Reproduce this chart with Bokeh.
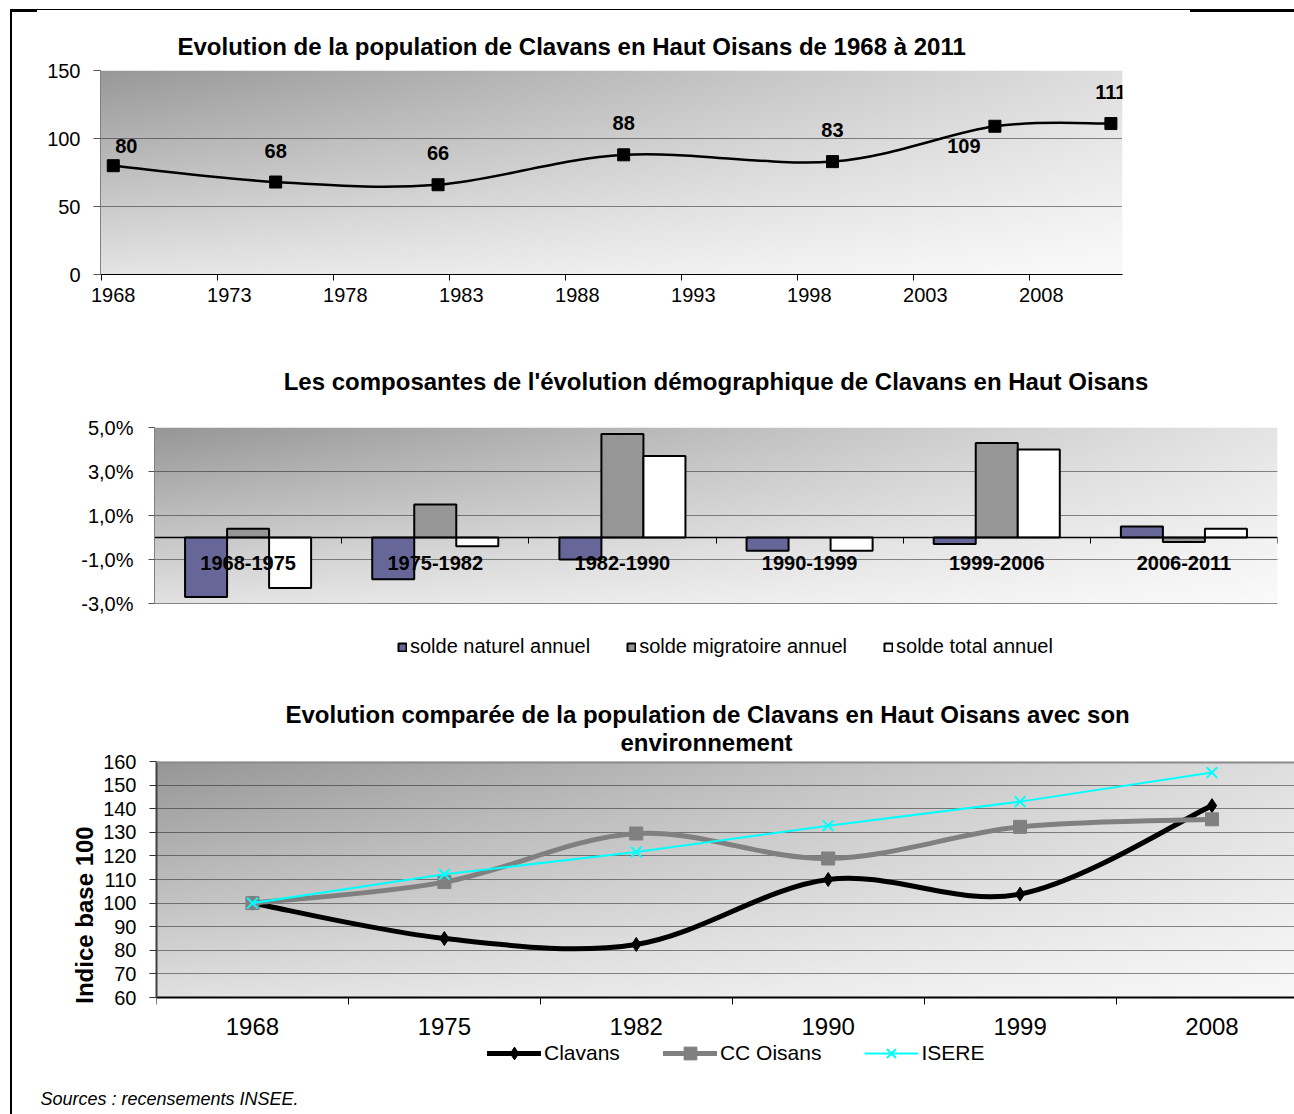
import numpy as np
from bokeh.plotting import figure
from bokeh.layouts import column
from bokeh.models import (ColumnDataSource, FixedTicker, Legend, LegendItem,
                          Range1d, Span, Title)
from bokeh.core.properties import value
from bokeh.embed import file_html
from bokeh.resources import INLINE

FONT = "Liberation Sans"

# ---------------------------------------------------------------------------
# Data
# ---------------------------------------------------------------------------
# Population of Clavans en Haut Oisans at each census
pop_years = [1968, 1975, 1982, 1990, 1999, 2006, 2011]
pop_counts = [80, 68, 66, 88, 83, 109, 111]
year_ticks = [1968, 1973, 1978, 1983, 1988, 1993, 1998, 2003, 2008]
pop_ticks = [0, 50, 100, 150]

# Annual components of population change (% per year)
periods = ["1968-1975", "1975-1982", "1982-1990", "1990-1999", "1999-2006", "2006-2011"]
solde_naturel = [-2.7, -1.9, -1.0, -0.6, -0.3, 0.5]
solde_migratoire = [0.4, 1.5, 4.7, 0.0, 4.3, -0.2]
solde_total = [-2.3, -0.4, 3.7, -0.6, 4.0, 0.4]
pct_ticks = [-3, -1, 1, 3, 5]
pct_labels = ["-3,0%", "-1,0%", "1,0%", "3,0%", "5,0%"]

# Population index, base 100 in 1968
census_years = ["1968", "1975", "1982", "1990", "1999", "2008"]
idx_clavans = [100, 85, 82.5, 110, 103.8, 141.3]
idx_cc_oisans = [100, 108.9, 129.5, 118.9, 132.3, 135.5]
idx_isere = [100, 112.2, 121.7, 132.8, 143.0, 155.3]
idx_ticks = [60, 70, 80, 90, 100, 110, 120, 130, 140, 150, 160]

# Pixel offsets of the value labels around each population point
LABEL_DX = [13, 0, 0, 0, 0, -31, 0]
LABEL_DY = [-20, -31, -32, -32, -32, 20, -32]


# ---------------------------------------------------------------------------
# Helpers
# ---------------------------------------------------------------------------
def smooth_segments(xs, ys):
    """Cubic Bezier pieces passing through every point (Catmull-Rom style)."""
    pts = list(zip(xs, ys))
    n = len(pts)
    out = {k: [] for k in ("x0", "y0", "x1", "y1", "cx0", "cy0", "cx1", "cy1")}
    for i in range(n - 1):
        p0, p1, p2, p3 = pts[max(i - 1, 0)], pts[i], pts[i + 1], pts[min(i + 2, n - 1)]
        out["x0"].append(p1[0]); out["y0"].append(p1[1])
        out["x1"].append(p2[0]); out["y1"].append(p2[1])
        out["cx0"].append(p1[0] + (p2[0] - p0[0]) / 6)
        out["cy0"].append(p1[1] + (p2[1] - p0[1]) / 6)
        out["cx1"].append(p2[0] - (p3[0] - p1[0]) / 6)
        out["cy1"].append(p2[1] - (p3[1] - p1[1]) / 6)
    return ColumnDataSource(out)


def gradient(w, h, tl, tr, bl, br):
    """Grey shading of the plot area, darker in the top-left corner."""
    u = np.linspace(0, 1, w)[None, :]
    v = np.linspace(0, 1, h)[:, None]
    g = tl * (1 - u) * (1 - v) + tr * u * (1 - v) + bl * (1 - u) * v + br * u * v
    g = np.flipud(np.clip(np.round(g), 0, 255).astype(np.uint32))
    return (np.uint32(255) << 24) | (g << 16) | (g << 8) | g


def shade(p, colors, y0, y1):
    xr = p.x_range
    p.image_rgba(image=[gradient(400, 120, *colors)], x=xr.start, y=y0,
                 dw=xr.end - xr.start, dh=y1 - y0, level="image")


def base_figure(**kw):
    p = figure(output_backend="svg", toolbar_location=None, frame_align=False,
               background_fill_color=None, border_fill_color=None,
               outline_line_color=None, **kw)
    p.xgrid.visible = False
    p.ygrid.grid_line_color = "#1a1a1a"
    p.ygrid.grid_line_dash = "1 1"
    p.ygrid.grid_line_width = 1
    for ax in p.axis:
        ax.major_label_text_font = FONT
        ax.major_label_text_color = "black"
        ax.major_label_text_font_size = "20px"
        ax.major_tick_in = 0
        ax.minor_tick_in = 0
    return p


def add_title(p, text, align="center", offset=0, standoff=10):
    p.add_layout(Title(text=text, align=align, offset=offset, standoff=standoff,
                       text_font=FONT, text_font_size="24px", text_font_style="bold",
                       text_color="black"), "above")


def bare_category_axis(ax, boundaries, tick_len, width):
    """Axis line with boundary ticks only; the category names are drawn as text."""
    ax.ticker = FixedTicker(ticks=[], minor_ticks=boundaries)
    ax.major_tick_out = 0
    ax.minor_tick_out = tick_len
    ax.minor_tick_line_color = "black"
    ax.major_label_standoff = 0
    ax.axis_line_color = "black"
    ax.axis_line_width = width


def make_legend(items, location, font_size, **kw):
    return Legend(items=items, orientation="horizontal", location=location,
                  label_standoff=3, padding=0, margin=0, border_line_color=None,
                  background_fill_alpha=0, label_text_font=FONT,
                  label_text_color="black", label_text_font_size=font_size,
                  label_height=20, **kw)


# ---------------------------------------------------------------------------
# 1. Population curve
# ---------------------------------------------------------------------------
p1 = base_figure(frame_width=1022, frame_height=204,
                 min_border_left=100, min_border_right=172,
                 min_border_top=70, min_border_bottom=56,
                 x_range=Range1d(1967.45, 2011.5), y_range=Range1d(0, 150))
shade(p1, (152, 222, 228, 250), 0, 150)

xa = p1.xaxis[0]
xa.ticker = FixedTicker(ticks=year_ticks, minor_ticks=[y - 0.5 for y in year_ticks])
xa.major_tick_out = 0
xa.minor_tick_out = 6
xa.minor_tick_line_color = "black"
xa.axis_line_color = "black"
xa.major_label_standoff = 7

ya = p1.yaxis[0]
ya.ticker = FixedTicker(ticks=pop_ticks)
ya.major_tick_out = 7
ya.major_tick_line_color = "#555555"
ya.axis_line_color = "#808080"
ya.major_label_standoff = 13

p1.bezier(x0="x0", y0="y0", x1="x1", y1="y1", cx0="cx0", cy0="cy0", cx1="cx1", cy1="cy1",
          source=smooth_segments(pop_years, pop_counts), line_color="black", line_width=2.5)
p1.scatter(pop_years, pop_counts, marker="square", size=12, fill_color="black", line_color="black")

lbl = ColumnDataSource(dict(x=pop_years, y=pop_counts, t=[str(v) for v in pop_counts],
                            dx=LABEL_DX, dy=LABEL_DY))
p1.text(x="x", y="y", text="t", x_offset="dx", y_offset="dy", source=lbl,
        text_font=value(FONT), text_font_style="bold", text_font_size="20px",
        text_align="center", text_baseline="middle", text_color="black")

add_title(p1, "Evolution de la population de Clavans en Haut Oisans de 1968 à 2011",
          align="left", offset=77, standoff=22)

# ---------------------------------------------------------------------------
# 2. Components of change (bars); the plot area also holds the legend row
# ---------------------------------------------------------------------------
n = len(periods)
centers = [i + 0.5 for i in range(n)]
BAR_W = 0.2245

p2 = base_figure(frame_width=1123, frame_height=241,
                 min_border_left=154, min_border_right=17,
                 min_border_top=97, min_border_bottom=12,
                 x_range=Range1d(0, n), y_range=Range1d(-5.9545, 5))
shade(p2, (150, 228, 226, 250), pct_ticks[0], pct_ticks[-1])

series = [("solde naturel annuel", solde_naturel, "#666699"),
          ("solde migratoire annuel", solde_migratoire, "#969696"),
          ("solde total annuel", solde_total, "#ffffff")]
items = []
for k, (name, vals, color) in enumerate(series):
    r = p2.vbar(x=[c + (k - 1) * BAR_W for c in centers], top=vals, bottom=0, width=BAR_W,
                fill_color=color, line_color="black", line_width=2)
    items.append(LegendItem(label=name, renderers=[r]))

xa = p2.xaxis[0]
xa.fixed_location = 0
bare_category_axis(xa, list(range(1, n + 1)), 6, 1.5)

p2.text(x=centers, y=[0] * n, text=periods, y_offset=25,
        text_font=value(FONT), text_font_style="bold", text_font_size="20px",
        text_align="center", text_baseline="middle", text_color="black")

ya = p2.yaxis[0]
ya.ticker = FixedTicker(ticks=pct_ticks)
ya.bounds = (pct_ticks[0], pct_ticks[-1])
ya.major_label_overrides = {t: s for t, s in zip(pct_ticks, pct_labels)}
ya.major_tick_out = 6
ya.major_tick_line_color = "#555555"
ya.axis_line_color = "#808080"
ya.major_label_standoff = 15

p2.add_layout(make_legend(items, (243, 10), "20px", glyph_width=10, glyph_height=10,
                          spacing=36))

add_title(p2, "Les composantes de l'évolution démographique de Clavans en Haut Oisans",
          align="center", standoff=66)

# ---------------------------------------------------------------------------
# 3. Compared evolution, index base 100; the plot area also holds the legend row
# ---------------------------------------------------------------------------
m = len(census_years)
pos = [i + 0.5 for i in range(m)]
y_lo, y_hi = idx_ticks[0], idx_ticks[-1]

p3 = base_figure(frame_width=1138, frame_height=307,
                 min_border_left=156, min_border_right=0,
                 min_border_top=81, min_border_bottom=12,
                 x_range=Range1d(0, 5.93), y_range=Range1d(29.92, y_hi))
shade(p3, (150, 222, 224, 248), y_lo, y_hi)

xa = p3.xaxis[0]
xa.fixed_location = y_lo
bare_category_axis(xa, list(range(0, m)), 7, 2)

p3.text(x=pos, y=[y_lo] * m, text=census_years, y_offset=29,
        text_font=value(FONT), text_font_size="24px",
        text_align="center", text_baseline="middle", text_color="black")

ya = p3.yaxis[0]
ya.ticker = FixedTicker(ticks=idx_ticks)
ya.bounds = (y_lo, y_hi)
ya.major_tick_out = 7
ya.major_tick_line_color = "#333333"
ya.axis_line_color = "#404040"
ya.axis_line_width = 2
ya.major_label_standoff = 13
ya.axis_label = "Indice base 100"
ya.axis_label_text_font = FONT
ya.axis_label_text_font_size = "24px"
ya.axis_label_text_font_style = "bold"
ya.axis_label_text_color = "black"
ya.axis_label_standoff = 2

# grey border along the top of the plot area
p3.add_layout(Span(location=y_hi, dimension="width", line_color="#8c8c8c", line_width=4))

r_cl = p3.bezier(x0="x0", y0="y0", x1="x1", y1="y1", cx0="cx0", cy0="cy0", cx1="cx1", cy1="cy1",
                 source=smooth_segments(pos, idx_clavans), line_color="black", line_width=5,
                 line_cap="round")
m_cl = p3.scatter(pos, idx_clavans, marker="diamond", size=14, fill_color="black", line_color="black")

r_cc = p3.bezier(x0="x0", y0="y0", x1="x1", y1="y1", cx0="cx0", cy0="cy0", cx1="cx1", cy1="cy1",
                 source=smooth_segments(pos, idx_cc_oisans), line_color="#808080", line_width=5,
                 line_cap="round")
m_cc = p3.scatter(pos, idx_cc_oisans, marker="square", size=13, fill_color="#808080",
                  line_color="#808080")

r_is = p3.line(pos, idx_isere, line_color="#00ffff", line_width=2)
m_is = p3.scatter(pos, idx_isere, marker="x", size=15, line_color="#00ffff", line_width=2)

leg3_items = [LegendItem(label="Clavans", renderers=[r_cl, m_cl]),
              LegendItem(label="CC Oisans", renderers=[r_cc, m_cc]),
              LegendItem(label="ISERE", renderers=[r_is, m_is])]
p3.add_layout(make_legend(leg3_items, (331, -1), "21px", glyph_width=54, glyph_height=32,
                          spacing=43))

add_title(p3, "environnement", align="left", offset=464, standoff=12)
add_title(p3, "Evolution comparée de la population de Clavans en Haut Oisans avec son",
          align="left", offset=129, standoff=-15)

# ---------------------------------------------------------------------------
# 4. Source line
# ---------------------------------------------------------------------------
p4 = figure(width=1294, height=34, output_backend="svg", toolbar_location=None,
            frame_align=False, min_border=0, x_axis_location=None, y_axis_location=None,
            x_range=Range1d(0, 1294), y_range=Range1d(0, 34),
            background_fill_color=None, border_fill_color=None, outline_line_color=None)
p4.grid.visible = False
p4.text(x=[40], y=[16], text=["Sources : recensements INSEE."],
        text_font=value(FONT), text_font_size="18px", text_font_style="italic",
        text_align="left", text_baseline="middle", text_color="black")

# ---------------------------------------------------------------------------
# Page: the charts inside a ruled frame
# ---------------------------------------------------------------------------
frame_lines = ", ".join([
    "linear-gradient(#000,#000) 10px 9px / 27px 3px no-repeat",
    "linear-gradient(#000,#000) 1190px 9px / 104px 3px no-repeat",
    "linear-gradient(#000,#000) 10px 9px / 1284px 1px no-repeat",
    "linear-gradient(#000,#000) 10px 9px / 2px 1105px no-repeat",
    "#ffffff",
])
page = column(p1, p2, p3, p4, spacing=0, styles={"background": frame_lines})

open("out.html", "w").write(file_html(page, INLINE))
